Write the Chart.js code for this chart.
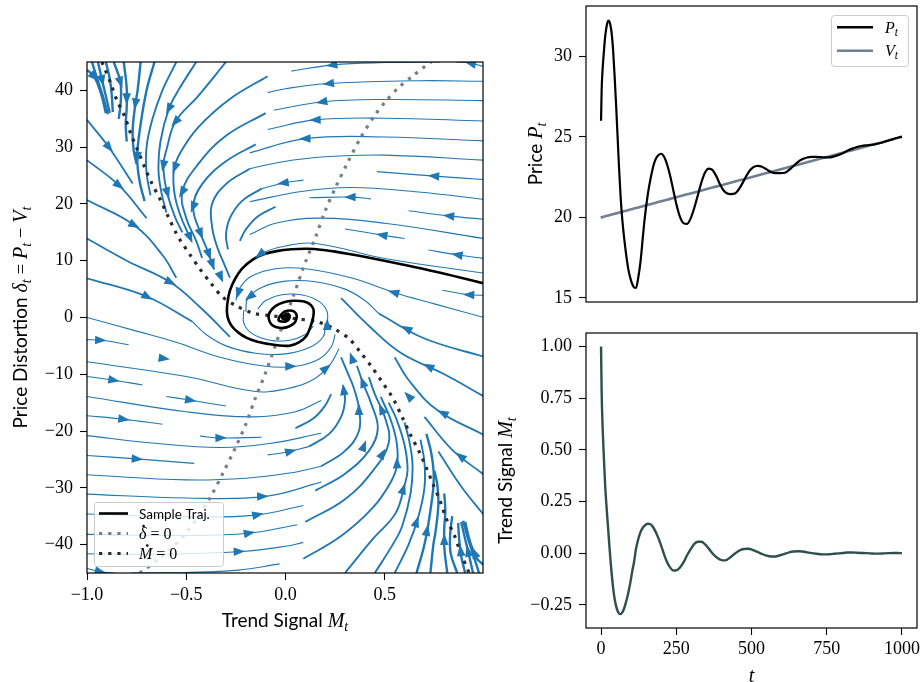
<!DOCTYPE html>
<html>
<head>
<meta charset="utf-8">
<title>Trend-following price dynamics</title>
<script src="https://cdn.jsdelivr.net/npm/chart.js@4.4.1/dist/chart.umd.min.js"></script>
<style>
  html, body { margin: 0; padding: 0; background: #fff; }
  body { width: 923px; height: 682px; position: relative; overflow: hidden; }
  canvas { position: absolute; }
  #phaseChart { left: 0; top: 0; }
  #priceChart { left: 490px; top: 0; }
  #trendChart { left: 490px; top: 320px; }
</style>
</head>
<body>
<canvas id="phaseChart" width="490" height="640"></canvas>
<canvas id="priceChart" width="433" height="320"></canvas>
<canvas id="trendChart" width="433" height="362"></canvas>
<script>
// ---- time series ----
const tSteps = [0, 2, 5, 8, 11, 14, 17, 20, 24, 28, 32, 36, 40, 45, 50, 55, 60, 65, 70, 76, 83, 90, 97, 104, 110, 116,
  124, 132, 140, 148, 156, 164, 172, 180, 190, 200, 210, 220, 230, 240, 250, 262, 274, 286, 298, 310, 322, 334, 346,
  358, 370, 382, 394, 406, 418, 430, 445, 460, 475, 490, 505, 520, 535, 550, 565, 580, 595, 610, 625, 640, 655, 670,
  685, 700, 715, 730, 745, 760, 775, 790, 805, 820, 835, 850, 865, 880, 895, 910, 925, 940, 955, 970, 985, 1000];
const price = [26.0, 27.9, 29.13, 29.94, 30.66, 31.27, 31.69, 32.0, 32.22, 32.15, 31.85, 31.3, 30.4, 28.8, 27.0, 25.0,
  23.0, 21.3, 20.0, 18.85, 17.75, 16.85, 16.25, 15.85, 15.65, 15.62, 16.3, 17.4, 19.0, 20.4, 21.5, 22.35, 23.05, 23.55,
  23.85, 23.95, 23.75, 23.25, 22.55, 21.7, 20.85, 20.05, 19.65, 19.6, 19.95, 20.6, 21.4, 22.2, 22.8, 23.03, 22.95,
  22.6, 22.1, 21.7, 21.5, 21.45, 21.48, 21.8, 22.3, 22.8, 23.1, 23.2, 23.15, 22.98, 22.82, 22.75, 22.75, 22.77, 22.95,
  23.2, 23.45, 23.62, 23.72, 23.76, 23.76, 23.74, 23.72, 23.73, 23.79, 23.88, 24.0, 24.15, 24.27, 24.37, 24.43, 24.47,
  24.5, 24.53, 24.6, 24.68, 24.77, 24.86, 24.94, 25.01];
const value = [20, 20.01, 20.025, 20.04, 20.055, 20.07, 20.085, 20.1, 20.12, 20.14, 20.16, 20.18, 20.2, 20.225, 20.25,
  20.275, 20.3, 20.325, 20.35, 20.38, 20.415, 20.45, 20.485, 20.52, 20.55, 20.58, 20.62, 20.66, 20.7, 20.74, 20.78,
  20.82, 20.86, 20.9, 20.95, 21.0, 21.05, 21.1, 21.15, 21.2, 21.25, 21.31, 21.37, 21.43, 21.49, 21.55, 21.61, 21.67,
  21.73, 21.79, 21.85, 21.91, 21.97, 22.03, 22.09, 22.15, 22.225, 22.3, 22.375, 22.45, 22.525, 22.6, 22.675, 22.75,
  22.825, 22.9, 22.975, 23.05, 23.125, 23.2, 23.275, 23.35, 23.425, 23.5, 23.575, 23.65, 23.725, 23.8, 23.875, 23.95,
  24.025, 24.1, 24.175, 24.25, 24.325, 24.4, 24.475, 24.55, 24.625, 24.7, 24.775, 24.85, 24.925, 25.0];
const trend = [1.0, 0.78, 0.62, 0.51, 0.41, 0.32, 0.25, 0.19, 0.11, 0.03, -0.045, -0.11, -0.165, -0.22, -0.255, -0.28,
  -0.292, -0.295, -0.288, -0.27, -0.237, -0.195, -0.145, -0.085, -0.04, 0.02, 0.07, 0.105, 0.125, 0.137, 0.142, 0.14,
  0.128, 0.108, 0.075, 0.035, -0.008, -0.045, -0.07, -0.084, -0.083, -0.07, -0.045, -0.01, 0.02, 0.045, 0.055, 0.055,
  0.042, 0.022, 0.0, -0.018, -0.03, -0.035, -0.032, -0.02, -0.002, 0.013, 0.02, 0.021, 0.015, 0.006, -0.004, -0.012,
  -0.016, -0.016, -0.01, -0.003, 0.004, 0.008, 0.009, 0.008, 0.004, 0.0, -0.003, -0.005, -0.006, -0.005, -0.003,
  -0.001, 0.001, 0.003, 0.003, 0.002, 0.001, 0.0, -0.001, -0.002, -0.002, -0.001, 0.0, 0.001, 0.001, 0.0];

// ---- phase plane: nullclines [M, delta] ----
const mdotNullcline = [[-0.925, 45], [-0.88, 41.2], [-0.85, 38.3], [-0.81, 35.4], [-0.78, 32.4], [-0.745, 29.5],
  [-0.71, 26.5], [-0.673, 23.6], [-0.63, 20.7], [-0.59, 17.7], [-0.55, 14.8], [-0.53, 13.6], [-0.48, 11.0],
  [-0.43, 8.5], [-0.375, 6.0], [-0.32, 3.7], [-0.245, 2.0], [-0.16, 0.74], [-0.06, 0.26], [0, 0], [0.06, -0.26],
  [0.16, -0.74], [0.245, -2.0], [0.32, -3.7], [0.375, -6.0], [0.43, -8.5], [0.48, -11.0], [0.53, -13.6],
  [0.55, -14.8], [0.59, -17.7], [0.63, -20.7], [0.673, -23.6], [0.71, -26.5], [0.745, -29.5], [0.78, -32.4],
  [0.81, -35.4], [0.85, -38.3], [0.88, -41.2], [0.925, -45]];
const deltaNullcline = [[-0.735, -45], [-0.712, -44.5], [-0.64, -42.5], [-0.57, -40.5], [-0.508, -38.2],
  [-0.45, -35.6], [-0.379, -31.7], [-0.315, -27.4], [-0.256, -23.2], [-0.2, -18.8], [-0.153, -14.3], [-0.101, -9.8],
  [-0.042, -4.0], [0, 0], [0.042, 4.0], [0.101, 9.8], [0.153, 14.3], [0.2, 18.8], [0.256, 23.2], [0.315, 27.4],
  [0.379, 31.7], [0.45, 35.6], [0.508, 38.2], [0.57, 40.5], [0.64, 42.5], [0.712, 44.5], [0.735, 45]];

// ---- streamlines, each a polyline of [M, delta] in flow direction ----
const topRightStreams = [
  [[1.0, 44.2], [0.93, 44.8], [0.86, 45.0]],
  [[0.78, 45.0], [0.5, 44.9], [0.24, 44.5], [0.03, 43.4]],
  [[1.0, 41.6], [0.67, 41.7], [0.22, 41.2], [0.0, 40.3], [-0.09, 39.6]],
  [[1.0, 38.2], [0.5, 38.4], [0.19, 38.0], [-0.06, 36.5]],
  [[1.0, 34.6], [0.5, 35.1], [0.15, 34.8], [-0.09, 33.1]],
  [[1.0, 31.1], [0.5, 31.8], [0.1, 31.5], [-0.18, 29.0]],
  [[1.0, 27.7], [0.5, 28.6], [0.2, 28.3], [-0.02, 27.4], [-0.18, 26.2]],
  [[1.0, 24.3], [0.75, 24.9], [0.46, 25.7]],
  [[0.09, 24.2], [-0.01, 23.7], [-0.12, 22.7]],
  [[1.0, 20.8], [0.67, 22.1], [0.33, 22.9], [0.08, 22.2], [-0.18, 20.4]],
  [[0.43, 20.9], [0.33, 21.2], [0.12, 21.1]],
  [[1.0, 17.3], [0.82, 17.9], [0.62, 18.8]],
  [[1.0, 13.9], [0.5, 16.6], [0.16, 17.5], [-0.05, 16.6], [-0.18, 14.6]],
  [[0.6, 13.9], [0.49, 14.5], [0.3, 15.6]],
  [[1.0, 10.4], [0.87, 11.0], [0.72, 11.9]],
  [[1.0, 7.8], [0.5, 10.4], [0.16, 13.0], [0.0, 12.6], [-0.126, 11.2], [-0.22, 8.5], [-0.27, 5.5]]
];
const bottomLeftStreams = [
  [[-1.0, -44.2], [-0.93, -44.8], [-0.86, -45.0]],
  [[-0.78, -45.0], [-0.5, -44.9], [-0.24, -44.5], [-0.03, -43.4]],
  [[-1.0, -41.6], [-0.67, -41.7], [-0.22, -41.2], [0.0, -40.3], [0.09, -39.6]],
  [[-1.0, -38.2], [-0.5, -38.4], [-0.19, -38.0], [0.06, -36.5]],
  [[-1.0, -34.6], [-0.5, -35.1], [-0.15, -34.8], [0.09, -33.1]],
  [[-1.0, -31.1], [-0.5, -31.8], [-0.1, -31.5], [0.18, -29.0]],
  [[-1.0, -27.7], [-0.5, -28.6], [-0.2, -28.3], [0.02, -27.4], [0.18, -26.2]],
  [[-1.0, -24.3], [-0.75, -24.9], [-0.46, -25.7]],
  [[-0.09, -24.2], [0.01, -23.7], [0.12, -22.7]],
  [[-1.0, -20.8], [-0.67, -22.1], [-0.33, -22.9], [-0.08, -22.2], [0.18, -20.4]],
  [[-0.43, -20.9], [-0.33, -21.2], [-0.12, -21.1]],
  [[-1.0, -17.3], [-0.82, -17.9], [-0.62, -18.8]],
  [[-1.0, -13.9], [-0.5, -16.6], [-0.16, -17.5], [0.05, -16.6], [0.18, -14.6]],
  [[-0.6, -13.9], [-0.49, -14.5], [-0.3, -15.6]],
  [[-1.0, -10.4], [-0.87, -11.0], [-0.72, -11.9]],
  [[-1.0, -7.8], [-0.5, -10.4], [-0.16, -13.0], [0.0, -12.6], [0.126, -11.2], [0.22, -8.5], [0.27, -5.5]]
];
const innerStreams = [
  [[1.0, 0.0], [0.75, 2.4], [0.547, 4.4], [0.33, 7.0], [0.1, 8.6], [-0.05, 8.6], [-0.17, 7.3], [-0.23, 5.2], [-0.25, 3.0]],
  [[1.0, 3.9], [0.926, 4.0], [0.79, 4.8]],
  [[0.47, 0.7], [0.40, 3.0], [0.30, 5.0], [0.15, 6.3], [0.0, 6.4], [-0.12, 5.3], [-0.19, 3.4], [-0.2, 1.0]],
  [[0.21, -1.3], [0.21, 1.0], [0.17, 2.8], [0.08, 4.0], [-0.02, 4.0], [-0.1, 3.0], [-0.14, 1.5]],
  [[-1.0, 0.0], [-0.75, -2.4], [-0.547, -4.4], [-0.33, -7.0], [-0.1, -8.6], [0.05, -8.6], [0.17, -7.3], [0.23, -5.2], [0.25, -3.0]],
  [[-1.0, -3.9], [-0.926, -4.0], [-0.79, -4.8]],
  [[-0.47, -0.7], [-0.40, -3.0], [-0.30, -5.0], [-0.15, -6.3], [0.0, -6.4], [0.12, -5.3], [0.19, -3.4], [0.2, -1.0]],
  [[-0.21, 1.3], [-0.21, -1.0], [-0.17, -2.8], [-0.08, -4.0], [0.02, -4.0], [0.1, -3.0], [0.14, -1.5]]
];
const sideStreams = [
  [[-1.0, 34.8], [-0.89, 30.0], [-0.77, 23.6]],
  [[-1.0, 27.7], [-0.84, 23.3], [-0.70, 17.5]],
  [[-1.0, 20.7], [-0.764, 16.3], [-0.62, 11.0], [-0.55, 7.0]],
  [[-1.0, 13.9], [-0.80, 10.0], [-0.58, 6.2], [-0.43, 1.8], [-0.28, -3.4]],
  [[-1.0, 6.9], [-0.70, 3.7], [-0.47, -0.7]],
  [[1.0, -34.8], [0.89, -30.0], [0.77, -23.6]],
  [[1.0, -27.7], [0.84, -23.3], [0.70, -17.5]],
  [[1.0, -20.7], [0.764, -16.3], [0.62, -11.0], [0.55, -7.0]],
  [[1.0, -13.9], [0.80, -10.0], [0.58, -6.2], [0.43, -1.8], [0.28, 3.4]],
  [[1.0, -6.9], [0.70, -3.7], [0.47, 0.7]]
];
const fanStreams = [
  [[-1.0, 43.6], [-0.963, 42.4], [-0.93, 39.5], [-0.905, 36.0]],
  [[-0.975, 45], [-0.95, 42.2], [-0.92, 39.0], [-0.895, 35.8]],
  [[-0.945, 45], [-0.924, 41.8], [-0.905, 39.0], [-0.885, 36.0]],
  [[-0.905, 45], [-0.885, 42.0], [-0.875, 39.0], [-0.87, 36.2]],
  [[-0.865, 45], [-0.832, 41.5], [-0.83, 38.0], [-0.84, 35.0]],
  [[-0.815, 45], [-0.80, 40.5], [-0.80, 37.0], [-0.805, 34.0], [-0.80, 31.0]],
  [[-0.73, 45], [-0.745, 40.0], [-0.756, 37.7], [-0.77, 33.0], [-0.765, 29.5], [-0.75, 27.0]],
  [[-0.66, 45], [-0.70, 40.0], [-0.73, 34.0], [-0.747, 28.3], [-0.735, 24.0], [-0.71, 20.5]],
  [[1.0, -43.6], [0.963, -42.4], [0.93, -39.5], [0.905, -36.0]],
  [[0.975, -45], [0.95, -42.2], [0.92, -39.0], [0.895, -35.8]],
  [[0.945, -45], [0.924, -41.8], [0.905, -39.0], [0.885, -36.0]],
  [[0.905, -45], [0.885, -42.0], [0.875, -39.0], [0.87, -36.2]],
  [[0.865, -45], [0.832, -41.5], [0.83, -38.0], [0.84, -35.0]],
  [[0.815, -45], [0.80, -40.5], [0.80, -37.0], [0.805, -34.0], [0.80, -31.0]],
  [[0.73, -45], [0.745, -40.0], [0.756, -37.7], [0.77, -33.0], [0.765, -29.5], [0.75, -27.0]],
  [[0.66, -45], [0.70, -40.0], [0.73, -34.0], [0.747, -28.3], [0.735, -24.0], [0.71, -20.5]]
];
const arcStreams = [
  [[-0.55, 45], [-0.62, 40.0], [-0.67, 35.0], [-0.70, 30.0], [-0.70, 25.5], [-0.68, 21.5]],
  [[-0.45, 45], [-0.54, 40.0], [-0.587, 36.8], [-0.63, 31.0], [-0.64, 26.0], [-0.625, 22.0], [-0.60, 18.5]],
  [[-0.30, 45], [-0.44, 39.0], [-0.554, 34.5], [-0.60, 29.5], [-0.615, 26.8], [-0.60, 22.5], [-0.56, 18.0], [-0.52, 15.0]],
  [[-0.09, 42.5], [-0.28, 38.5], [-0.44, 33.5], [-0.53, 29.0], [-0.562, 26.0], [-0.56, 22.0], [-0.53, 18.0], [-0.48, 14.0]],
  [[-0.10, 36.0], [-0.30, 32.0], [-0.44, 27.0], [-0.52, 22.1], [-0.50, 17.5], [-0.45, 13.5], [-0.42, 10.5]],
  [[-0.15, 30.5], [-0.30, 27.5], [-0.42, 23.5], [-0.465, 19.5], [-0.43, 15.0], [-0.39, 11.5], [-0.36, 8.5]],
  [[-0.18, 26.2], [-0.30, 23.5], [-0.37, 20.0], [-0.37, 16.0], [-0.345, 12.5], [-0.31, 9.5], [-0.28, 7.0]],
  [[-0.12, 22.7], [-0.22, 20.5], [-0.28, 17.5], [-0.30, 14.5], [-0.29, 12.0]],
  [[-0.05, 19.5], [-0.14, 17.8], [-0.2, 15.5], [-0.23, 13.5]],
  [[0.55, -45], [0.62, -40.0], [0.67, -35.0], [0.70, -30.0], [0.70, -25.5], [0.68, -21.5]],
  [[0.45, -45], [0.54, -40.0], [0.587, -36.8], [0.63, -31.0], [0.64, -26.0], [0.625, -22.0], [0.60, -18.5]],
  [[0.30, -45], [0.44, -39.0], [0.554, -34.5], [0.60, -29.5], [0.615, -26.8], [0.60, -22.5], [0.56, -18.0], [0.52, -15.0]],
  [[0.09, -42.5], [0.28, -38.5], [0.44, -33.5], [0.53, -29.0], [0.562, -26.0], [0.56, -22.0], [0.53, -18.0], [0.48, -14.0]],
  [[0.10, -36.0], [0.30, -32.0], [0.44, -27.0], [0.52, -22.1], [0.50, -17.5], [0.45, -13.5], [0.42, -10.5]],
  [[0.15, -30.5], [0.30, -27.5], [0.42, -23.5], [0.465, -19.5], [0.43, -15.0], [0.39, -11.5], [0.36, -8.5]],
  [[0.18, -26.2], [0.30, -23.5], [0.37, -20.0], [0.37, -16.0], [0.345, -12.5], [0.31, -9.5], [0.28, -7.0]],
  [[0.12, -22.7], [0.22, -20.5], [0.28, -17.5], [0.30, -14.5], [0.29, -12.0]],
  [[0.05, -19.5], [0.14, -17.8], [0.2, -15.5], [0.23, -13.5]]
];
// arrowhead positions [M, delta]; heading follows the nearest streamline
const arrowMarks = [
  [0.934, 44.8], [0.236, 44.5], [0.219, 41.2], [0.185, 38.0], [0.152, 34.8], [0.101, 31.5], [-0.009, 23.7],
  [0.749, 24.9], [0.328, 21.2], [0.825, 17.9], [0.488, 14.5], [0.867, 11.0], [-0.126, 11.1], [0.547, 4.4],
  [0.926, 4.0], [-0.89, 30.0], [-0.84, 23.3], [-0.764, 16.3], [-0.58, 6.3], [-0.697, 3.7], [-0.963, 42.5],
  [-0.924, 41.8], [-0.832, 41.5], [-0.80, 38.6], [-0.756, 37.7], [-0.747, 28.3], [-0.587, 36.8], [-0.554, 34.5],
  [-0.621, 26.8], [-0.562, 26.5], [-0.587, 22.1], [-0.52, 22.1], [-0.486, 19.5], [-0.478, 14.2], [-0.41, 15.1],
  [-0.403, 11.0], [-0.36, 9.5], [-0.327, 7.2], [-0.251, 4.5], [-0.192, 4.3],
  [-0.934, -3.8], [-0.614, -7.2], [-0.867, -10.9], [-0.48, -14.4], [-0.817, -17.9], [-0.749, -24.6],
  [-0.328, -20.9], [-0.118, -31.4], [-0.143, -34.6], [-0.185, -37.9], [-0.236, -41.2], [-0.934, -44.6],
  [0.024, -8.7], [0.209, -9.2], [0.335, -7.2], [0.293, -12.8], [0.402, -11.3], [0.385, -16.3], [0.478, -16.3],
  [0.024, -23.6], [0.394, -22.7], [0.495, -24.2], [0.571, -25.7], [0.579, -30.1], [0.621, -13.9], [0.672, -36.2],
  [0.731, -37.7], [0.798, -39.2], [0.865, -41.2], [0.924, -41.2], [0.975, -41.2], [0.613, -1.9], [0.714, -9.2],
  [0.798, -16.6], [0.882, -24.5], [0.209, -1.3]
];

// ---- tick positions ----
const phaseXTicks = [-1, -0.5, 0, 0.5];
const phaseYTicks = [-40, -30, -20, -10, 0, 10, 20, 30, 40];
const priceTicks = [15, 20, 25, 30];
const trendTicks = [-0.25, 0, 0.25, 0.5, 0.75, 1];
const timeTicks = [0, 250, 500, 750, 1000];

// ---- helpers ----
const STREAM = '#1f77b4';
const SLATE = '#708090';
const sans = s => `${s}px Lato, 'DejaVu Sans', sans-serif`;
const serif = s => `${s}px 'Liberation Serif', 'DejaVu Serif', serif`;
const ital = s => `italic ${s}px 'Liberation Serif', 'DejaVu Serif', serif`;
const fmt = (v, d) => (v < 0 ? '\u2212' : '') + Math.abs(v).toFixed(d);
const toXY = pts => pts.map(p => ({ x: p[0], y: p[1] }));

function axis(o) {
  const show = o.show !== false;
  return {
    type: 'linear', position: o.position, min: o.min, max: o.max,
    afterBuildTicks: s => { s.ticks = o.ticks.map(v => ({ value: v })); },
    afterFit: s => {
      if (s.isHorizontal()) s.height = o.size; else s.width = o.size;
      s.paddingLeft = 0; s.paddingRight = 0; s.paddingTop = 0; s.paddingBottom = 0;
    },
    ticks: {
      display: show, autoSkip: false, maxRotation: 0, padding: o.pad, color: '#000',
      font: { family: "'Liberation Serif', 'DejaVu Serif', serif", size: 18 },
      callback: v => fmt(v, o.dec)
    },
    grid: { display: show, drawOnChartArea: false, drawTicks: show, tickLength: 7, tickWidth: 1.1, tickColor: '#000' },
    border: { display: false }
  };
}

function curve(pts, color, width, extra) {
  return Object.assign({
    data: toXY(pts), showLine: true, borderColor: color, borderWidth: width,
    pointRadius: 0, pointHoverRadius: 0, fill: false, tension: 0.4
  }, extra || {});
}

function drawRich(ctx, parts, x, y, angle, align, base) {
  ctx.save();
  ctx.translate(x, y);
  ctx.rotate(angle || 0);
  ctx.textBaseline = 'alphabetic';
  ctx.textAlign = 'left';
  ctx.fillStyle = '#000';
  let total = 0;
  const widths = parts.map(p => { ctx.font = p.f; const w = ctx.measureText(p.t).width; total += w; return w; });
  let cx = align === 'left' ? 0 : -total / 2;
  const b = base === undefined ? 6.5 : base;
  parts.forEach((p, i) => {
    ctx.font = p.f;
    ctx.fillText(p.t, cx, b + (p.dy || 0));
    if (p.dot) {
      ctx.beginPath();
      ctx.arc(cx + widths[i] * 0.62, b - p.dot, 1.3, 0, Math.PI * 2);
      ctx.fill();
    }
    cx += widths[i];
  });
  ctx.restore();
}

function frame(chart) {
  const a = chart.chartArea, ctx = chart.ctx;
  ctx.save();
  ctx.strokeStyle = '#000';
  ctx.lineWidth = 1.2;
  ctx.strokeRect(a.left, a.top, a.right - a.left, a.bottom - a.top);
  ctx.restore();
}

function legendBox(ctx, x, y, w, h) {
  ctx.save();
  ctx.beginPath();
  ctx.roundRect(x + 0.5, y + 0.5, w, h, 3);
  ctx.fillStyle = 'rgba(255,255,255,0.8)';
  ctx.fill();
  ctx.strokeStyle = '#cccccc';
  ctx.lineWidth = 1;
  ctx.stroke();
  ctx.restore();
}

function legendLine(ctx, x0, x1, y, color, width, dash) {
  ctx.save();
  ctx.beginPath();
  ctx.moveTo(x0, y);
  ctx.lineTo(x1, y);
  ctx.strokeStyle = color;
  ctx.lineWidth = width;
  ctx.setLineDash(dash || []);
  ctx.stroke();
  ctx.restore();
}

Chart.defaults.animation = false;
Chart.defaults.events = [];
Chart.defaults.plugins.legend.display = false;
Chart.defaults.plugins.tooltip.enabled = false;

// ---- phase plane chart ----
const allStreams = [].concat(topRightStreams, bottomLeftStreams, innerStreams, sideStreams, fanStreams, arcStreams);
const trajectory = tSteps.map((t, i) => [trend[i], price[i] - value[i]]);

const phaseSets = [];
phaseSets.push(curve(trajectory, '#000', 2.6, { order: 0, tension: 0.3 }));
phaseSets.push(curve(deltaNullcline, SLATE, 3.2, { order: 1, tension: 0.3, borderDash: [3.2, 6] }));
phaseSets.push(curve(mdotNullcline, '#2b2b2b', 3.2, { order: 1, tension: 0.3, borderDash: [3.2, 6] }));
topRightStreams.concat(bottomLeftStreams).forEach(s => phaseSets.push(curve(s, STREAM, 1.1, { order: 2 })));
innerStreams.forEach(s => phaseSets.push(curve(s, STREAM, 1.1, { order: 2 })));
sideStreams.forEach(s => phaseSets.push(curve(s, STREAM, 1.8, { order: 2 })));
arcStreams.forEach(s => phaseSets.push(curve(s, STREAM, 1.9, { order: 2 })));
fanStreams.forEach(s => phaseSets.push(curve(s, STREAM, 2.4, { order: 2 })));

const arrowPlugin = {
  id: 'streamArrows',
  afterDatasetsDraw(chart) {
    const xs = chart.scales.x, ys = chart.scales.y, ctx = chart.ctx, a = chart.chartArea;
    const lines = allStreams.map(l => l.map(p => [xs.getPixelForValue(p[0]), ys.getPixelForValue(p[1])]));
    ctx.save();
    ctx.beginPath();
    ctx.rect(a.left, a.top, a.right - a.left, a.bottom - a.top);
    ctx.clip();
    ctx.fillStyle = STREAM;
    arrowMarks.forEach(m => {
      const px = xs.getPixelForValue(m[0]), py = ys.getPixelForValue(m[1]);
      let best = null;
      lines.forEach(l => {
        for (let i = 0; i < l.length - 1; i++) {
          const ax = l[i][0], ay = l[i][1], bx = l[i + 1][0], by = l[i + 1][1];
          const dx = bx - ax, dy = by - ay, len2 = dx * dx + dy * dy || 1;
          let u = ((px - ax) * dx + (py - ay) * dy) / len2;
          u = Math.max(0, Math.min(1, u));
          const qx = ax + u * dx, qy = ay + u * dy;
          const d = Math.hypot(px - qx, py - qy);
          if (!best || d < best.d) best = { d, qx, qy, dx, dy };
        }
      });
      if (!best) return;
      const n = Math.hypot(best.dx, best.dy) || 1;
      const ux = best.dx / n, uy = best.dy / n;
      const cx = best.d < 6 ? best.qx : px, cy = best.d < 6 ? best.qy : py;
      ctx.beginPath();
      ctx.moveTo(cx + ux * 6.5, cy + uy * 6.5);
      ctx.lineTo(cx - ux * 5 - uy * 4.3, cy - uy * 5 + ux * 4.3);
      ctx.lineTo(cx - ux * 5 + uy * 4.3, cy - uy * 5 - ux * 4.3);
      ctx.closePath();
      ctx.fill();
    });
    ctx.restore();
  }
};

const phaseDecor = {
  id: 'phaseDecor',
  afterDraw(chart) {
    const ctx = chart.ctx;
    frame(chart);
    drawRich(ctx, [
      { t: 'Price Distortion ', f: sans(19) }, { t: '\u03b4', f: ital(20) }, { t: 't', f: ital(14), dy: 4 },
      { t: ' = ', f: serif(19) }, { t: 'P', f: ital(20) }, { t: 't', f: ital(14), dy: 4 },
      { t: ' \u2212 ', f: serif(19) }, { t: 'V', f: ital(20) }, { t: 't', f: ital(14), dy: 4 }
    ], 20, 317.5, -Math.PI / 2);
    drawRich(ctx, [
      { t: 'Trend Signal ', f: sans(19) }, { t: 'M', f: ital(20) }, { t: 't', f: ital(14), dy: 4 }
    ], 285, 620, 0);
    legendBox(ctx, 94, 502, 129, 64);
    legendLine(ctx, 99, 128, 513.5, '#000', 2.6);
    legendLine(ctx, 99, 128, 533.5, SLATE, 3.2, [3.2, 6]);
    legendLine(ctx, 99, 128, 553.5, '#2b2b2b', 3.2, [3.2, 6]);
    drawRich(ctx, [{ t: 'Sample Traj.', f: sans(13.5) }], 139, 513.5, 0, 'left', 5);
    drawRich(ctx, [{ t: '\u03b4', f: ital(16), dot: 13 }, { t: ' = 0', f: serif(16) }], 139, 533.5, 0, 'left', 5.5);
    drawRich(ctx, [{ t: 'M', f: ital(16), dot: 13.5 }, { t: ' = 0', f: serif(16) }], 139, 553.5, 0, 'left', 5.5);
  }
};

new Chart(document.getElementById('phaseChart'), {
  type: 'scatter',
  data: { datasets: phaseSets },
  options: {
    responsive: false, devicePixelRatio: 1, parsing: false,
    layout: { padding: { left: 0, right: 7, top: 62, bottom: 0 } },
    scales: {
      x: axis({ position: 'bottom', min: -1, max: 0.995, ticks: phaseXTicks, dec: 1, size: 67, pad: 4 }),
      y: axis({ position: 'left', min: -45, max: 45, ticks: phaseYTicks, dec: 0, size: 87, pad: 7 })
    }
  },
  plugins: [arrowPlugin, phaseDecor]
});

// ---- price chart ----
new Chart(document.getElementById('priceChart'), {
  type: 'scatter',
  data: {
    datasets: [
      curve(tSteps.map((t, i) => [t, price[i]]), '#000', 2.2, { order: 0, cubicInterpolationMode: 'monotone' }),
      curve(tSteps.map((t, i) => [t, value[i]]), SLATE, 2.6, { order: 1, tension: 0 })
    ]
  },
  options: {
    responsive: false, devicePixelRatio: 1, parsing: false,
    layout: { padding: { left: 0, right: 6, top: 6, bottom: 0 } },
    scales: {
      x: axis({ position: 'bottom', min: -50, max: 1050, ticks: timeTicks, dec: 0, size: 18, pad: 4, show: false }),
      y: axis({ position: 'left', min: 14.75, max: 33.12, ticks: priceTicks, dec: 0, size: 96, pad: 7 })
    }
  },
  plugins: [{
    id: 'priceDecor',
    afterDraw(chart) {
      const ctx = chart.ctx;
      frame(chart);
      drawRich(ctx, [{ t: 'Price ', f: sans(19) }, { t: 'P', f: ital(20) }, { t: 't', f: ital(14), dy: 4 }],
        45, 154, -Math.PI / 2);
      legendBox(ctx, 341, 15, 77, 51);
      legendLine(ctx, 347, 383, 27.3, '#000', 2.4);
      legendLine(ctx, 347, 383, 50.7, SLATE, 2.6);
      drawRich(ctx, [{ t: 'P', f: ital(16) }, { t: 't', f: ital(11.5), dy: 3 }], 395, 27.3, 0, 'left', 5.5);
      drawRich(ctx, [{ t: 'V', f: ital(16) }, { t: 't', f: ital(11.5), dy: 3 }], 395, 50.7, 0, 'left', 5.5);
    }
  }]
});

// ---- trend signal chart ----
new Chart(document.getElementById('trendChart'), {
  type: 'scatter',
  data: {
    datasets: [curve(tSteps.map((t, i) => [t, trend[i]]), '#2f4f4f', 2.4, { cubicInterpolationMode: 'monotone' })]
  },
  options: {
    responsive: false, devicePixelRatio: 1, parsing: false,
    layout: { padding: { left: 0, right: 6, top: 13, bottom: 0 } },
    scales: {
      x: axis({ position: 'bottom', min: -50, max: 1050, ticks: timeTicks, dec: 0, size: 54, pad: 3 }),
      y: axis({ position: 'left', min: -0.362, max: 1.065, ticks: trendTicks, dec: 2, size: 96, pad: 7 })
    }
  },
  plugins: [{
    id: 'trendDecor',
    afterDraw(chart) {
      const ctx = chart.ctx;
      frame(chart);
      drawRich(ctx, [{ t: 'Trend Signal ', f: sans(19) }, { t: 'M', f: ital(20) }, { t: 't', f: ital(14), dy: 4 }],
        15, 160.5, -Math.PI / 2);
      drawRich(ctx, [{ t: 't', f: ital(20) }], 261.5, 355, 0);
    }
  }]
});
</script>
</body>
</html>
